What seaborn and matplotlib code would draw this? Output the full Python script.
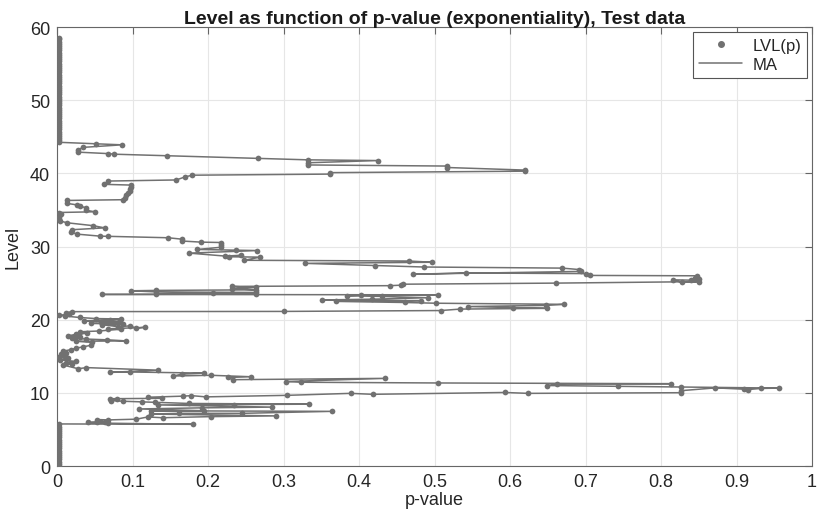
import matplotlib
matplotlib.use("Agg")
import matplotlib.pyplot as plt
import pandas as pd
import seaborn as sns
from matplotlib.lines import Line2D

# Levels 0 .. 5.75: p-values pinned at zero
lvl_base = [0.0, 0.3, 0.6, 0.9, 1.2, 1.5, 1.8, 2.1, 2.4, 2.7, 3.0, 3.3, 3.6, 3.9,
            4.2, 4.5, 4.8, 5.1, 5.4, 5.75]
p_base = [0.002, 0.002, 0.002, 0.002, 0.002, 0.002, 0.002, 0.002, 0.002, 0.002,
          0.002, 0.002, 0.002, 0.002, 0.002, 0.002, 0.002, 0.002, 0.002, 0.002]

# Levels 5.7 .. 21.1
lvl_lower = [5.70, 5.85, 5.95, 6.05, 6.00, 6.35, 6.30, 6.40, 6.70, 6.60, 6.75, 6.85,
             7.10, 7.20, 7.20, 7.47, 7.55, 7.55, 7.80, 7.95, 8.05, 8.35, 8.40, 8.45,
             8.55, 8.70, 8.75, 8.85, 8.95, 9.10, 9.20, 9.25, 9.40, 9.55, 9.62, 9.45,
             9.66, 9.93, 9.80, 10.05, 9.93, 10.02, 10.30, 10.68, 10.50, 10.45, 10.60,
             10.65, 10.80, 10.90, 11.00, 11.20, 11.25, 11.35, 11.45, 11.55, 11.98,
             11.80, 12.10, 12.20, 12.40, 12.30, 12.55, 12.70, 12.85, 12.80, 13.10,
             13.45, 13.30, 13.80, 13.95, 14.10, 14.30, 14.50, 14.70, 14.90, 15.10,
             15.30, 15.50, 15.70, 15.90, 16.10, 16.30, 16.50, 16.90, 17.05, 17.10,
             17.25, 17.35, 17.50, 17.65, 17.80, 18.00, 18.15, 18.35, 18.45, 18.70,
             18.75, 18.95, 18.85, 19.15, 19.05, 19.30, 19.35, 19.50, 19.55, 19.70,
             19.75, 19.85, 19.95, 20.10, 20.15, 20.30, 20.50, 20.60, 20.75, 20.95,
             21.10]
p_lower = [0.180, 0.068, 0.041, 0.053, 0.064, 0.053, 0.068, 0.105, 0.120, 0.140, 0.204, 0.290,
           0.125, 0.162, 0.245, 0.364, 0.125, 0.195, 0.109, 0.192, 0.285, 0.134, 0.235, 0.334,
           0.175, 0.130, 0.112, 0.088, 0.072, 0.080, 0.070, 0.139, 0.120, 0.167, 0.178, 0.197,
           0.305, 0.389, 0.418, 0.593, 0.624, 0.827, 0.827, 0.872, 0.910, 0.915, 0.932,
           0.956, 0.827, 0.743, 0.649, 0.662, 0.813, 0.504, 0.323, 0.303, 0.435,
           0.233, 0.226, 0.257, 0.204, 0.154, 0.165, 0.195, 0.096, 0.070, 0.134,
           0.039, 0.028, 0.008, 0.020, 0.012, 0.025, 0.004, 0.015, 0.002, 0.010,
           0.005, 0.012, 0.008, 0.018, 0.025, 0.035, 0.045, 0.046, 0.025, 0.092,
           0.066, 0.039, 0.020, 0.030, 0.015, 0.025, 0.040, 0.030, 0.055, 0.085,
           0.067, 0.116, 0.105, 0.096, 0.081, 0.060, 0.088, 0.045, 0.075, 0.058,
           0.082, 0.036, 0.070, 0.085, 0.052, 0.030, 0.010, 0.003, 0.016, 0.012,
           0.020]

# Levels 21.1 .. 44.3
lvl_middle = [21.13, 21.25, 21.45, 21.55, 21.65, 21.80, 21.95, 22.10, 22.25, 22.35, 22.50,
              22.60, 22.70, 22.80, 23.00, 23.18, 23.27, 23.36, 23.40, 23.45, 23.50, 23.55,
              23.65, 23.72, 23.80, 23.95, 24.00, 24.08, 24.25, 24.40, 24.55, 24.65, 24.72,
              24.85, 25.00, 25.20, 25.10, 25.45, 25.40, 25.55, 25.75, 26.00, 26.05, 26.30,
              26.38, 26.22, 26.60, 26.85, 27.05, 27.20, 27.40, 27.70, 27.85, 28.02, 28.12,
              28.55, 28.60, 28.80, 28.70, 29.10, 29.45, 29.50, 29.60, 29.90, 30.20, 30.55,
              30.60, 30.75, 31.00, 31.20, 31.40, 31.42, 31.70, 32.00, 32.30, 32.55, 32.85,
              33.25, 33.50, 33.80, 34.10, 34.40, 34.65, 34.75, 34.95, 35.30, 35.50, 35.70,
              35.90, 36.30, 36.40, 36.70, 37.00, 37.30, 37.60, 37.90, 38.20, 38.40, 38.50,
              38.95, 39.10, 39.50, 39.75, 39.90, 40.10, 40.30, 40.45, 40.80, 41.00, 41.15,
              41.45, 41.75, 41.85, 42.05, 42.40, 42.62, 42.70, 42.90, 43.20, 43.55, 43.90,
              44.05, 44.25]
p_middle = [0.300, 0.508, 0.534, 0.649, 0.604, 0.545, 0.648, 0.672, 0.502, 0.461, 0.369,
            0.482, 0.351, 0.417, 0.491, 0.430, 0.384, 0.402, 0.504, 0.060, 0.263, 0.131,
            0.206, 0.263, 0.131, 0.098, 0.131, 0.263, 0.232, 0.263, 0.232, 0.441, 0.456,
            0.458, 0.661, 0.850, 0.828, 0.816, 0.840, 0.850, 0.845, 0.848, 0.706, 0.700,
            0.542, 0.471, 0.694, 0.692, 0.669, 0.486, 0.421, 0.328, 0.497, 0.466, 0.248,
            0.269, 0.228, 0.244, 0.222, 0.175, 0.265, 0.237, 0.186, 0.217, 0.217, 0.217,
            0.191, 0.166, 0.166, 0.147, 0.068, 0.057, 0.026, 0.019, 0.020, 0.063, 0.048,
            0.013, 0.004, 0.002, 0.003, 0.005, 0.002, 0.050, 0.039, 0.039, 0.030, 0.026,
            0.013, 0.013, 0.088, 0.090, 0.092, 0.094, 0.096, 0.097, 0.098, 0.098, 0.062,
            0.068, 0.158, 0.169, 0.179, 0.362, 0.362, 0.620, 0.620, 0.517, 0.517, 0.332,
            0.332, 0.425, 0.332, 0.266, 0.146, 0.076, 0.068, 0.028, 0.028, 0.034, 0.086,
            0.051, 0.002]

# Levels 44.5 .. 58.5: p-values pinned at zero
lvl_top = [44.5, 44.8, 45.1, 45.4, 45.7, 46.0, 46.3, 46.6, 46.9, 47.2, 47.5, 47.8,
           48.1, 48.4, 48.7, 49.0, 49.3, 49.6, 49.9, 50.2, 50.5, 50.8, 51.1, 51.4,
           51.7, 52.0, 52.3, 52.6, 52.9, 53.2, 53.5, 53.8, 54.1, 54.4, 54.7, 55.0,
           55.3, 55.6, 55.9, 56.2, 56.5, 56.8, 57.1, 57.4, 57.7, 58.0, 58.3, 58.5]
p_top = [0.002, 0.002, 0.002, 0.002, 0.002, 0.002, 0.002, 0.002, 0.002, 0.002, 0.002, 0.002,
         0.002, 0.002, 0.002, 0.002, 0.002, 0.002, 0.002, 0.002, 0.002, 0.002, 0.002, 0.002,
         0.002, 0.002, 0.002, 0.002, 0.002, 0.002, 0.002, 0.002, 0.002, 0.002, 0.002, 0.002,
         0.002, 0.002, 0.002, 0.002, 0.002, 0.002, 0.002, 0.002, 0.002, 0.002, 0.002, 0.002]

x_ticks = [0, 0.1, 0.2, 0.3, 0.4, 0.5, 0.6, 0.7, 0.8, 0.9, 1]
x_tick_labels = ["0", "0.1", "0.2", "0.3", "0.4", "0.5", "0.6", "0.7", "0.8", "0.9", "1"]
y_ticks = [0, 10, 20, 30, 40, 50, 60]

df = pd.DataFrame({
    "p": p_base + p_lower + p_middle + p_top,
    "level": lvl_base + lvl_lower + lvl_middle + lvl_top,
})

sns.set_theme(style="whitegrid")
plt.rcParams["font.family"] = ["Liberation Sans", "DejaVu Sans"]

grey = "#717171"

fig = plt.figure(figsize=(8.17, 5.10), dpi=100)
ax = fig.add_axes([0.0698, 0.0843, 0.9241, 0.8607])
ax.set_facecolor("white")

sns.lineplot(data=df, x="p", y="level", sort=False, estimator=None,
             color=grey, linewidth=1.1, ax=ax, legend=False, zorder=2)
sns.scatterplot(data=df, x="p", y="level", color=grey, s=17, linewidth=0,
                ax=ax, legend=False, zorder=3)

ax.set_xlim(0, 1)
ax.set_ylim(0, 60)
ax.set_xticks(x_ticks)
ax.set_xticklabels(x_tick_labels)
ax.set_yticks(y_ticks)
ax.grid(True, color="#e6e6e6", linewidth=0.8)
ax.tick_params(direction="in", top=True, right=True, length=5, width=0.8,
               color="#666666", labelsize=13, labelcolor="#262626", pad=5)
for s in ax.spines.values():
    s.set_color("#666666")
    s.set_linewidth(0.8)

ax.set_xlabel("p-value", fontsize=13, color="#262626", labelpad=1)
ax.set_ylabel("Level", fontsize=13, color="#262626", labelpad=6)
ax.set_title("Level as function of p-value (exponentiality), Test data",
             fontsize=14, fontweight="bold", color="#1a1a1a", pad=3)

handles = [
    Line2D([], [], marker="o", linestyle="none", color=grey, markersize=4),
    Line2D([], [], color=grey, linewidth=1.1),
]
leg = ax.legend(handles, ["LVL(p)", "MA"], loc="upper right",
                bbox_to_anchor=(0.9934, 0.9886), borderaxespad=0,
                fontsize=12, frameon=True, fancybox=False, framealpha=1,
                edgecolor="#555555", handlelength=2.6, borderpad=0.35,
                labelspacing=0.25, handletextpad=0.6)
leg.get_frame().set_linewidth(0.8)

fig.savefig("out.png", dpi=100)
